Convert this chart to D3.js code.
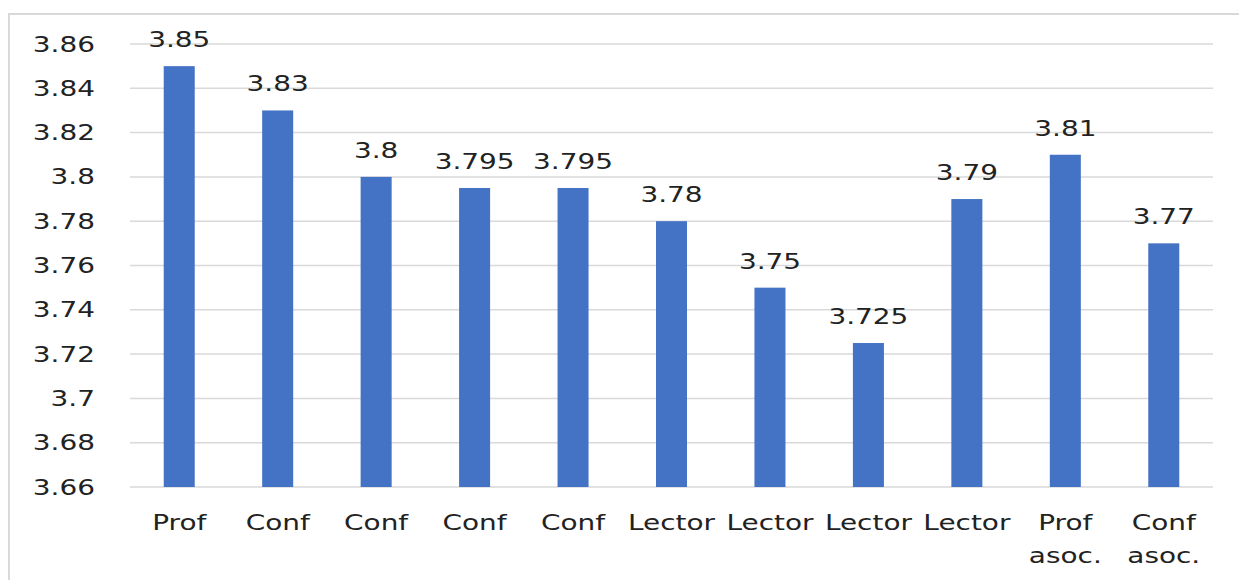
<!DOCTYPE html>
<html><head><meta charset="utf-8">
<script src="https://cdn.jsdelivr.net/npm/d3@7"></script>
<style>body{margin:0;background:#fff}svg{display:block}text{font-family:"DejaVu Sans",Verdana,sans-serif;fill:#222}</style>
</head><body>
<svg id="c" width="1239" height="580"></svg>
<script>
const categories = [["Prof"],["Conf"],["Conf"],["Conf"],["Conf"],["Lector"],["Lector"],["Lector"],["Lector"],["Prof","asoc."],["Conf","asoc."]];
const values = [3.85,3.83,3.8,3.795,3.795,3.78,3.75,3.725,3.79,3.81,3.77];
const valueLabels = ["3.85","3.83","3.8","3.795","3.795","3.78","3.75","3.725","3.79","3.81","3.77"];
const yTicks = [3.66,3.68,3.7,3.72,3.74,3.76,3.78,3.8,3.82,3.84,3.86];
const yTickLabels = ["3.66","3.68","3.7","3.72","3.74","3.76","3.78","3.8","3.82","3.84","3.86"];

(function(){
const svg = d3.select("#c");
const SX = 1.33, FS = 21;
const pLeft = 130, pRight = 1213, pTop = 44, pBottom = 487;

svg.append("rect").attr("x",9).attr("y",14).attr("width",1300).attr("height",700)
  .attr("fill","none").attr("stroke","#d9d9d9").attr("stroke-width",2);

const x = d3.scaleBand().domain(d3.range(values.length)).range([pLeft,pRight]).paddingInner(0.685).paddingOuter(0.3425);
const y = d3.scaleLinear().domain([3.66,3.86]).range([pBottom,pTop]);

const g = svg.append("g");
g.selectAll("line.grid").data(yTicks).join("line").attr("class","grid")
  .attr("x1",pLeft).attr("x2",pRight).attr("y1",d=>y(d)).attr("y2",d=>y(d))
  .attr("stroke","#d9d9d9").attr("stroke-width",1.5);

g.selectAll("text.yt").data(yTicks).join("text").attr("class","yt")
  .attr("transform",d=>`translate(95,${y(d)+7.5}) scale(${SX},1)`)
  .attr("text-anchor","end").attr("font-size",FS).text((d,i)=>yTickLabels[i]);

g.selectAll("rect.bar").data(values).join("rect").attr("class","bar")
  .attr("x",(d,i)=>x(i)).attr("width",x.bandwidth())
  .attr("y",d=>y(d)).attr("height",d=>y(3.66)-y(d)).attr("fill","#4472C4");

g.selectAll("text.vl").data(values).join("text").attr("class","vl")
  .attr("transform",(d,i)=>`translate(${x(i)+x.bandwidth()/2},${y(d)-19}) scale(${SX},1)`)
  .attr("text-anchor","middle").attr("font-size",FS).text((d,i)=>valueLabels[i]);

categories.forEach((lines,i)=>{
  lines.forEach((t,j)=>{
    g.append("text")
      .attr("transform",`translate(${x(i)+x.bandwidth()/2},${530+j*33}) scale(${SX},1)`)
      .attr("text-anchor","middle").attr("font-size",FS).text(t);
  });
});
})();
</script>
</body></html>
